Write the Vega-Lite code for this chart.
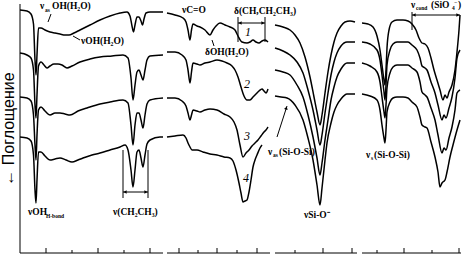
{
"$schema": "https://vega.github.io/schema/vega-lite/v6.json",
"width": 467, "height": 257, "padding": 0, "autosize": {"type": "none"},
"background": "white",
"config": {"view": {"stroke": null}},
"datasets": {
"curves": [
{"g":"1a","x":20,"y":10},{"g":"1a","x":27,"y":11},{"g":"1a","x":31,"y":14},{"g":"1a","x":33.5,"y":24},{"g":"1a","x":35,"y":60},{"g":"1a","x":36,"y":75},{"g":"1a","x":37,"y":55},{"g":"1a","x":38.5,"y":28},{"g":"1a","x":41,"y":28},{"g":"1a","x":45,"y":30},{"g":"1a","x":50,"y":32},{"g":"1a","x":55,"y":33},{"g":"1a","x":60,"y":34},{"g":"1a","x":65,"y":35},{"g":"1a","x":69,"y":35},{"g":"1a","x":74,"y":33},{"g":"1a","x":80,"y":30},{"g":"1a","x":90,"y":25},{"g":"1a","x":100,"y":20},{"g":"1a","x":110,"y":16},{"g":"1a","x":120,"y":13},{"g":"1a","x":127,"y":12},{"g":"1a","x":130,"y":16},{"g":"1a","x":132,"y":26},{"g":"1a","x":133.5,"y":32},{"g":"1a","x":135,"y":25},{"g":"1a","x":137,"y":17},{"g":"1a","x":139,"y":17},{"g":"1a","x":141,"y":21},{"g":"1a","x":142.5,"y":25},{"g":"1a","x":144,"y":19},{"g":"1a","x":146,"y":13},{"g":"1a","x":150,"y":12},{"g":"1a","x":163,"y":12},
{"g":"1b","x":167,"y":13},{"g":"1b","x":175,"y":15},{"g":"1b","x":183,"y":18},{"g":"1b","x":186,"y":22},{"g":"1b","x":188,"y":30},{"g":"1b","x":190,"y":40},{"g":"1b","x":191.5,"y":30},{"g":"1b","x":193,"y":24},{"g":"1b","x":197,"y":26},{"g":"1b","x":200,"y":27},{"g":"1b","x":205,"y":30},{"g":"1b","x":210,"y":35},{"g":"1b","x":213,"y":30},{"g":"1b","x":216,"y":26},{"g":"1b","x":220,"y":23},{"g":"1b","x":225,"y":25},{"g":"1b","x":230,"y":27},{"g":"1b","x":235,"y":30},{"g":"1b","x":238,"y":36},{"g":"1b","x":242,"y":42},{"g":"1b","x":247,"y":43},{"g":"1b","x":250,"y":42},{"g":"1b","x":253,"y":40},{"g":"1b","x":256,"y":42},{"g":"1b","x":259,"y":43},{"g":"1b","x":262,"y":41},{"g":"1b","x":265,"y":40},{"g":"1b","x":268,"y":42},
{"g":"1c","x":275,"y":25},{"g":"1c","x":283,"y":27},{"g":"1c","x":290,"y":30},{"g":"1c","x":295,"y":35},{"g":"1c","x":300,"y":43},{"g":"1c","x":305,"y":57},{"g":"1c","x":310,"y":77},{"g":"1c","x":314,"y":97},{"g":"1c","x":317,"y":112},{"g":"1c","x":320,"y":125},{"g":"1c","x":322,"y":115},{"g":"1c","x":325,"y":93},{"g":"1c","x":328,"y":72},{"g":"1c","x":331,"y":55},{"g":"1c","x":334,"y":42},{"g":"1c","x":337,"y":33},{"g":"1c","x":341,"y":26},{"g":"1c","x":345,"y":22},{"g":"1c","x":350,"y":21},{"g":"1c","x":355,"y":22},
{"g":"1d","x":362,"y":23},{"g":"1d","x":368,"y":24},{"g":"1d","x":373,"y":27},{"g":"1d","x":377,"y":36},{"g":"1d","x":380,"y":50},{"g":"1d","x":382,"y":65},{"g":"1d","x":384,"y":80},{"g":"1d","x":385,"y":85},{"g":"1d","x":386,"y":70},{"g":"1d","x":387,"y":48},{"g":"1d","x":389,"y":30},{"g":"1d","x":392,"y":22},{"g":"1d","x":397,"y":20},{"g":"1d","x":403,"y":20},{"g":"1d","x":408,"y":21},{"g":"1d","x":412,"y":24},{"g":"1d","x":416,"y":30},{"g":"1d","x":419,"y":38},{"g":"1d","x":422,"y":43},{"g":"1d","x":425,"y":44},{"g":"1d","x":428,"y":48},{"g":"1d","x":431,"y":58},{"g":"1d","x":434,"y":70},{"g":"1d","x":437,"y":80},{"g":"1d","x":440,"y":90},{"g":"1d","x":443,"y":100},{"g":"1d","x":445,"y":95},{"g":"1d","x":447,"y":98},{"g":"1d","x":449,"y":92},{"g":"1d","x":452,"y":85},{"g":"1d","x":455,"y":70},{"g":"1d","x":457,"y":52},{"g":"1d","x":459,"y":30},{"g":"1d","x":460,"y":15},
{"g":"2a","x":20,"y":53},{"g":"2a","x":27,"y":55},{"g":"2a","x":31,"y":58},{"g":"2a","x":33.5,"y":70},{"g":"2a","x":35,"y":105},{"g":"2a","x":36,"y":118},{"g":"2a","x":37,"y":95},{"g":"2a","x":38.5,"y":66},{"g":"2a","x":41,"y":62},{"g":"2a","x":44,"y":65},{"g":"2a","x":47,"y":68},{"g":"2a","x":50,"y":66},{"g":"2a","x":54,"y":64},{"g":"2a","x":58,"y":64},{"g":"2a","x":62,"y":65},{"g":"2a","x":67,"y":68},{"g":"2a","x":72,"y":66},{"g":"2a","x":80,"y":62},{"g":"2a","x":90,"y":59},{"g":"2a","x":100,"y":57},{"g":"2a","x":112,"y":56},{"g":"2a","x":123,"y":55},{"g":"2a","x":128,"y":58},{"g":"2a","x":131,"y":78},{"g":"2a","x":133,"y":100},{"g":"2a","x":135,"y":85},{"g":"2a","x":137,"y":72},{"g":"2a","x":139,"y":70},{"g":"2a","x":141,"y":75},{"g":"2a","x":143,"y":80},{"g":"2a","x":145,"y":70},{"g":"2a","x":147,"y":60},{"g":"2a","x":150,"y":56},{"g":"2a","x":163,"y":55},
{"g":"2b","x":167,"y":52},{"g":"2b","x":175,"y":52},{"g":"2b","x":182,"y":55},{"g":"2b","x":186,"y":60},{"g":"2b","x":188,"y":70},{"g":"2b","x":190,"y":83},{"g":"2b","x":191.5,"y":72},{"g":"2b","x":193,"y":63},{"g":"2b","x":197,"y":64},{"g":"2b","x":200,"y":65},{"g":"2b","x":205,"y":63},{"g":"2b","x":210,"y":62},{"g":"2b","x":217,"y":60},{"g":"2b","x":222,"y":61},{"g":"2b","x":227,"y":63},{"g":"2b","x":232,"y":66},{"g":"2b","x":235,"y":70},{"g":"2b","x":238,"y":77},{"g":"2b","x":241,"y":87},{"g":"2b","x":244,"y":96},{"g":"2b","x":247,"y":100},{"g":"2b","x":250,"y":100},{"g":"2b","x":253,"y":97},{"g":"2b","x":256,"y":94},{"g":"2b","x":259,"y":91},{"g":"2b","x":262,"y":89},{"g":"2b","x":264,"y":91},{"g":"2b","x":266,"y":93},{"g":"2b","x":268,"y":89},
{"g":"2c","x":275,"y":48},{"g":"2c","x":283,"y":51},{"g":"2c","x":290,"y":55},{"g":"2c","x":297,"y":62},{"g":"2c","x":303,"y":73},{"g":"2c","x":308,"y":90},{"g":"2c","x":313,"y":110},{"g":"2c","x":317,"y":130},{"g":"2c","x":320,"y":145},{"g":"2c","x":322,"y":135},{"g":"2c","x":325,"y":113},{"g":"2c","x":328,"y":93},{"g":"2c","x":331,"y":75},{"g":"2c","x":334,"y":62},{"g":"2c","x":337,"y":53},{"g":"2c","x":341,"y":46},{"g":"2c","x":347,"y":42},{"g":"2c","x":355,"y":42},
{"g":"2d","x":362,"y":42},{"g":"2d","x":370,"y":44},{"g":"2d","x":377,"y":50},{"g":"2d","x":380,"y":60},{"g":"2d","x":382,"y":75},{"g":"2d","x":384,"y":92},{"g":"2d","x":385,"y":100},{"g":"2d","x":386,"y":85},{"g":"2d","x":387,"y":65},{"g":"2d","x":390,"y":50},{"g":"2d","x":393,"y":44},{"g":"2d","x":397,"y":42},{"g":"2d","x":403,"y":42},{"g":"2d","x":408,"y":42},{"g":"2d","x":412,"y":45},{"g":"2d","x":417,"y":50},{"g":"2d","x":420,"y":58},{"g":"2d","x":422,"y":66},{"g":"2d","x":425,"y":68},{"g":"2d","x":427,"y":70},{"g":"2d","x":431,"y":82},{"g":"2d","x":435,"y":93},{"g":"2d","x":438,"y":105},{"g":"2d","x":442,"y":120},{"g":"2d","x":444,"y":115},{"g":"2d","x":446,"y":118},{"g":"2d","x":449,"y":108},{"g":"2d","x":452,"y":97},{"g":"2d","x":455,"y":78},{"g":"2d","x":457,"y":58},{"g":"2d","x":460,"y":50},
{"g":"3a","x":20,"y":97},{"g":"3a","x":27,"y":98},{"g":"3a","x":31,"y":101},{"g":"3a","x":33.5,"y":115},{"g":"3a","x":35,"y":145},{"g":"3a","x":36,"y":160},{"g":"3a","x":37,"y":135},{"g":"3a","x":38.5,"y":110},{"g":"3a","x":41,"y":107},{"g":"3a","x":45,"y":111},{"g":"3a","x":50,"y":115},{"g":"3a","x":55,"y":113},{"g":"3a","x":60,"y":113},{"g":"3a","x":65,"y":114},{"g":"3a","x":70,"y":115},{"g":"3a","x":78,"y":111},{"g":"3a","x":87,"y":108},{"g":"3a","x":100,"y":104},{"g":"3a","x":110,"y":102},{"g":"3a","x":123,"y":100},{"g":"3a","x":128,"y":103},{"g":"3a","x":131,"y":125},{"g":"3a","x":133,"y":145},{"g":"3a","x":135,"y":125},{"g":"3a","x":137,"y":113},{"g":"3a","x":139,"y":113},{"g":"3a","x":141,"y":120},{"g":"3a","x":143,"y":128},{"g":"3a","x":145,"y":115},{"g":"3a","x":147,"y":104},{"g":"3a","x":150,"y":100},{"g":"3a","x":163,"y":98},
{"g":"3b","x":167,"y":98},{"g":"3b","x":175,"y":98},{"g":"3b","x":182,"y":101},{"g":"3b","x":186,"y":106},{"g":"3b","x":188,"y":113},{"g":"3b","x":190,"y":120},{"g":"3b","x":191.5,"y":115},{"g":"3b","x":193,"y":110},{"g":"3b","x":197,"y":111},{"g":"3b","x":200,"y":112},{"g":"3b","x":205,"y":110},{"g":"3b","x":210,"y":109},{"g":"3b","x":217,"y":110},{"g":"3b","x":224,"y":114},{"g":"3b","x":230,"y":117},{"g":"3b","x":234,"y":122},{"g":"3b","x":237,"y":130},{"g":"3b","x":240,"y":145},{"g":"3b","x":243,"y":157},{"g":"3b","x":246,"y":153},{"g":"3b","x":249,"y":150},{"g":"3b","x":252,"y":146},{"g":"3b","x":255,"y":143},{"g":"3b","x":258,"y":140},{"g":"3b","x":261,"y":136},{"g":"3b","x":264,"y":132},{"g":"3b","x":266,"y":130},{"g":"3b","x":268,"y":127},
{"g":"3c","x":275,"y":70},{"g":"3c","x":283,"y":72},{"g":"3c","x":290,"y":75},{"g":"3c","x":297,"y":85},{"g":"3c","x":303,"y":97},{"g":"3c","x":308,"y":115},{"g":"3c","x":313,"y":137},{"g":"3c","x":317,"y":158},{"g":"3c","x":320,"y":175},{"g":"3c","x":322,"y":163},{"g":"3c","x":325,"y":140},{"g":"3c","x":328,"y":120},{"g":"3c","x":331,"y":100},{"g":"3c","x":334,"y":87},{"g":"3c","x":337,"y":77},{"g":"3c","x":341,"y":69},{"g":"3c","x":347,"y":63},{"g":"3c","x":355,"y":63},
{"g":"3d","x":362,"y":63},{"g":"3d","x":370,"y":66},{"g":"3d","x":377,"y":72},{"g":"3d","x":380,"y":82},{"g":"3d","x":382,"y":97},{"g":"3d","x":384,"y":112},{"g":"3d","x":385,"y":118},{"g":"3d","x":386,"y":105},{"g":"3d","x":387,"y":88},{"g":"3d","x":390,"y":73},{"g":"3d","x":393,"y":67},{"g":"3d","x":397,"y":65},{"g":"3d","x":403,"y":65},{"g":"3d","x":408,"y":65},{"g":"3d","x":412,"y":68},{"g":"3d","x":417,"y":72},{"g":"3d","x":420,"y":82},{"g":"3d","x":422,"y":92},{"g":"3d","x":425,"y":95},{"g":"3d","x":427,"y":97},{"g":"3d","x":431,"y":108},{"g":"3d","x":435,"y":120},{"g":"3d","x":438,"y":135},{"g":"3d","x":442,"y":153},{"g":"3d","x":444,"y":148},{"g":"3d","x":446,"y":150},{"g":"3d","x":449,"y":138},{"g":"3d","x":452,"y":127},{"g":"3d","x":455,"y":110},{"g":"3d","x":457,"y":93},{"g":"3d","x":460,"y":90},
{"g":"4a","x":20,"y":137},{"g":"4a","x":27,"y":138},{"g":"4a","x":31,"y":141},{"g":"4a","x":33.5,"y":155},{"g":"4a","x":35,"y":190},{"g":"4a","x":36,"y":203},{"g":"4a","x":37,"y":180},{"g":"4a","x":38.5,"y":152},{"g":"4a","x":41,"y":152},{"g":"4a","x":45,"y":156},{"g":"4a","x":50,"y":160},{"g":"4a","x":55,"y":159},{"g":"4a","x":60,"y":158},{"g":"4a","x":66,"y":160},{"g":"4a","x":72,"y":162},{"g":"4a","x":78,"y":160},{"g":"4a","x":83,"y":158},{"g":"4a","x":92,"y":155},{"g":"4a","x":100,"y":153},{"g":"4a","x":110,"y":150},{"g":"4a","x":120,"y":147},{"g":"4a","x":125,"y":145},{"g":"4a","x":128,"y":150},{"g":"4a","x":131,"y":170},{"g":"4a","x":133,"y":187},{"g":"4a","x":135,"y":170},{"g":"4a","x":137,"y":152},{"g":"4a","x":139,"y":150},{"g":"4a","x":141,"y":158},{"g":"4a","x":143,"y":167},{"g":"4a","x":145,"y":155},{"g":"4a","x":147,"y":144},{"g":"4a","x":150,"y":140},{"g":"4a","x":160,"y":137},{"g":"4a","x":163,"y":137},
{"g":"4b","x":167,"y":137},{"g":"4b","x":175,"y":136},{"g":"4b","x":183,"y":135},{"g":"4b","x":186,"y":138},{"g":"4b","x":188,"y":143},{"g":"4b","x":190,"y":147},{"g":"4b","x":192,"y":150},{"g":"4b","x":197,"y":150},{"g":"4b","x":203,"y":152},{"g":"4b","x":210,"y":154},{"g":"4b","x":217,"y":155},{"g":"4b","x":224,"y":157},{"g":"4b","x":230,"y":158},{"g":"4b","x":233,"y":161},{"g":"4b","x":236,"y":170},{"g":"4b","x":239,"y":183},{"g":"4b","x":241,"y":193},{"g":"4b","x":243,"y":202},{"g":"4b","x":245,"y":201},{"g":"4b","x":247,"y":200},{"g":"4b","x":249,"y":192},{"g":"4b","x":251,"y":180},{"g":"4b","x":253,"y":167},{"g":"4b","x":255,"y":160},{"g":"4b","x":257,"y":155},{"g":"4b","x":260,"y":148},{"g":"4b","x":262,"y":145},
{"g":"4c","x":275,"y":96},{"g":"4c","x":281,"y":97},{"g":"4c","x":287,"y":98},{"g":"4c","x":295,"y":105},{"g":"4c","x":303,"y":120},{"g":"4c","x":308,"y":138},{"g":"4c","x":313,"y":160},{"g":"4c","x":317,"y":185},{"g":"4c","x":320,"y":205},{"g":"4c","x":322,"y":188},{"g":"4c","x":325,"y":160},{"g":"4c","x":327,"y":143},{"g":"4c","x":331,"y":123},{"g":"4c","x":334,"y":112},{"g":"4c","x":337,"y":105},{"g":"4c","x":341,"y":99},{"g":"4c","x":347,"y":94},{"g":"4c","x":355,"y":94},
{"g":"4d","x":362,"y":94},{"g":"4d","x":370,"y":96},{"g":"4d","x":377,"y":100},{"g":"4d","x":380,"y":110},{"g":"4d","x":382,"y":125},{"g":"4d","x":384,"y":138},{"g":"4d","x":385,"y":143},{"g":"4d","x":386,"y":130},{"g":"4d","x":387,"y":112},{"g":"4d","x":390,"y":102},{"g":"4d","x":393,"y":98},{"g":"4d","x":397,"y":97},{"g":"4d","x":403,"y":97},{"g":"4d","x":408,"y":98},{"g":"4d","x":412,"y":102},{"g":"4d","x":417,"y":107},{"g":"4d","x":420,"y":117},{"g":"4d","x":422,"y":125},{"g":"4d","x":425,"y":127},{"g":"4d","x":427,"y":128},{"g":"4d","x":431,"y":142},{"g":"4d","x":435,"y":157},{"g":"4d","x":438,"y":172},{"g":"4d","x":440,"y":187},{"g":"4d","x":442,"y":183},{"g":"4d","x":445,"y":180},{"g":"4d","x":447,"y":172},{"g":"4d","x":450,"y":157},{"g":"4d","x":453,"y":145},{"g":"4d","x":457,"y":130},{"g":"4d","x":460,"y":120}
],
"rules": [
{"x":20,"x2":20,"y":4,"y2":253},
{"x":20,"x2":163,"y":253,"y2":253},{"x":167,"x2":270,"y":253,"y2":253},{"x":275,"x2":357,"y":253,"y2":253},{"x":362,"x2":461,"y":253,"y2":253},
{"x":46,"x2":46,"y":248,"y2":253},{"x":98,"x2":98,"y":248,"y2":253},{"x":150,"x2":150,"y":248,"y2":253},{"x":179,"x2":179,"y":248,"y2":253},{"x":217,"x2":217,"y":248,"y2":253},{"x":257,"x2":257,"y":248,"y2":253},{"x":323,"x2":323,"y":248,"y2":253},{"x":352,"x2":352,"y":248,"y2":253},{"x":404,"x2":404,"y":248,"y2":253},{"x":459,"x2":459,"y":248,"y2":253},
{"x":72,"x2":72,"y":250,"y2":253},{"x":124,"x2":124,"y":250,"y2":253},{"x":198,"x2":198,"y":250,"y2":253},{"x":237,"x2":237,"y":250,"y2":253},{"x":295,"x2":295,"y":250,"y2":253},{"x":377,"x2":377,"y":250,"y2":253},{"x":432,"x2":432,"y":250,"y2":253},
{"x":123,"x2":123,"y":150,"y2":198},{"x":148,"x2":148,"y":150,"y2":198},{"x":123,"x2":148,"y":192,"y2":192},
{"x":238,"x2":238,"y":17,"y2":42},{"x":265,"x2":265,"y":17,"y2":42},{"x":238,"x2":265,"y":23,"y2":23},
{"x":412,"x2":412,"y":12,"y2":30},{"x":412,"x2":460,"y":15,"y2":15},
{"x":277,"x2":287,"y":137,"y2":106},
{"x":51,"x2":48,"y":14,"y2":22},{"x":80,"x2":73,"y":40,"y2":36},{"x":212,"x2":214,"y":40,"y2":46}
],
"arrows": [
{"x":125,"y":192,"d":"l"},{"x":146,"y":192,"d":"r"},{"x":240,"y":23,"d":"l"},{"x":263,"y":23,"d":"r"},{"x":414,"y":15,"d":"l"},{"x":458,"y":15,"d":"r"}
],
"slant": [{"x":286.3,"y":108}],
"labels": [
{"t":"ν","x":40,"y":6},{"t":"OH(H₂O)","x":52,"y":6},{"t":"νOH(H₂O)","x":81,"y":41},{"t":"νC=O","x":182,"y":10},{"t":"δ(CH,CH₂CH₃)","x":234,"y":11},{"t":"δOH(H₂O)","x":205,"y":52},{"t":"νOH","x":28,"y":212},{"t":"ν(CH₂CH₃)","x":113,"y":212},{"t":"ν","x":268,"y":152},{"t":"(Si-O-Si)","x":279,"y":152},{"t":"νSi-O⁻","x":304,"y":215},{"t":"ν","x":366,"y":155},{"t":"(Si-O-Si)","x":374,"y":155},{"t":"ν","x":411,"y":5},{"t":"(SiO","x":431,"y":5},{"t":")","x":458,"y":5}
],
"subs": [
{"t":"as","x":45,"y":10},{"t":"H-bond","x":46,"y":216},{"t":"as","x":273,"y":155},{"t":"s","x":371,"y":158},{"t":"cond","x":416,"y":8},{"t":"4","x":452,"y":8},{"t":"−","x":454,"y":2}
],
"nums": [
{"t":"1","x":248,"y":32},{"t":"2","x":247,"y":84},{"t":"3","x":247,"y":136},{"t":"4","x":246,"y":178}
],
"title": [{"t":"← Поглощение","x":9,"y":129}]
},
"encoding": {
"x": {"field":"x","type":"quantitative","scale":{"domain":[0,467],"nice":false,"zero":false},"axis":null},
"y": {"field":"y","type":"quantitative","scale":{"domain":[0,257],"nice":false,"zero":false,"reverse":true},"axis":null}
},
"layer": [
{"data":{"name":"rules"},"mark":{"type":"rule","color":"black","strokeWidth":1},"encoding":{"x2":{"field":"x2"},"y2":{"field":"y2"}}},
{"data":{"name":"curves"},"mark":{"type":"line","color":"black","strokeWidth":1.5,"interpolate":"monotone"},"encoding":{"detail":{"field":"g"}}},
{"data":{"name":"arrows"},"mark":{"type":"point","filled":true,"color":"black","opacity":1,"size":14},"encoding":{"shape":{"field":"d","type":"nominal","scale":{"domain":["l","r"],"range":["triangle-left","triangle-right"]},"legend":null}}},
{"data":{"name":"slant"},"mark":{"type":"point","filled":true,"color":"black","opacity":1,"size":14,"shape":"triangle-up","angle":17},"encoding":{}},
{"data":{"name":"labels"},"mark":{"type":"text","font":"Liberation Serif","fontSize":9.5,"fontWeight":"bold","align":"left","baseline":"middle","color":"black"},"encoding":{"text":{"field":"t"}}},
{"data":{"name":"subs"},"mark":{"type":"text","font":"Liberation Serif","fontSize":5.5,"fontWeight":"bold","align":"left","baseline":"middle","color":"black"},"encoding":{"text":{"field":"t"}}},
{"data":{"name":"nums"},"mark":{"type":"text","font":"Liberation Serif","fontSize":12,"fontStyle":"italic","align":"center","baseline":"middle","color":"black"},"encoding":{"text":{"field":"t"}}},
{"data":{"name":"title"},"mark":{"type":"text","font":"Liberation Sans","fontSize":16,"angle":270,"align":"center","baseline":"middle","color":"black"},"encoding":{"text":{"field":"t"}}}
]
}
